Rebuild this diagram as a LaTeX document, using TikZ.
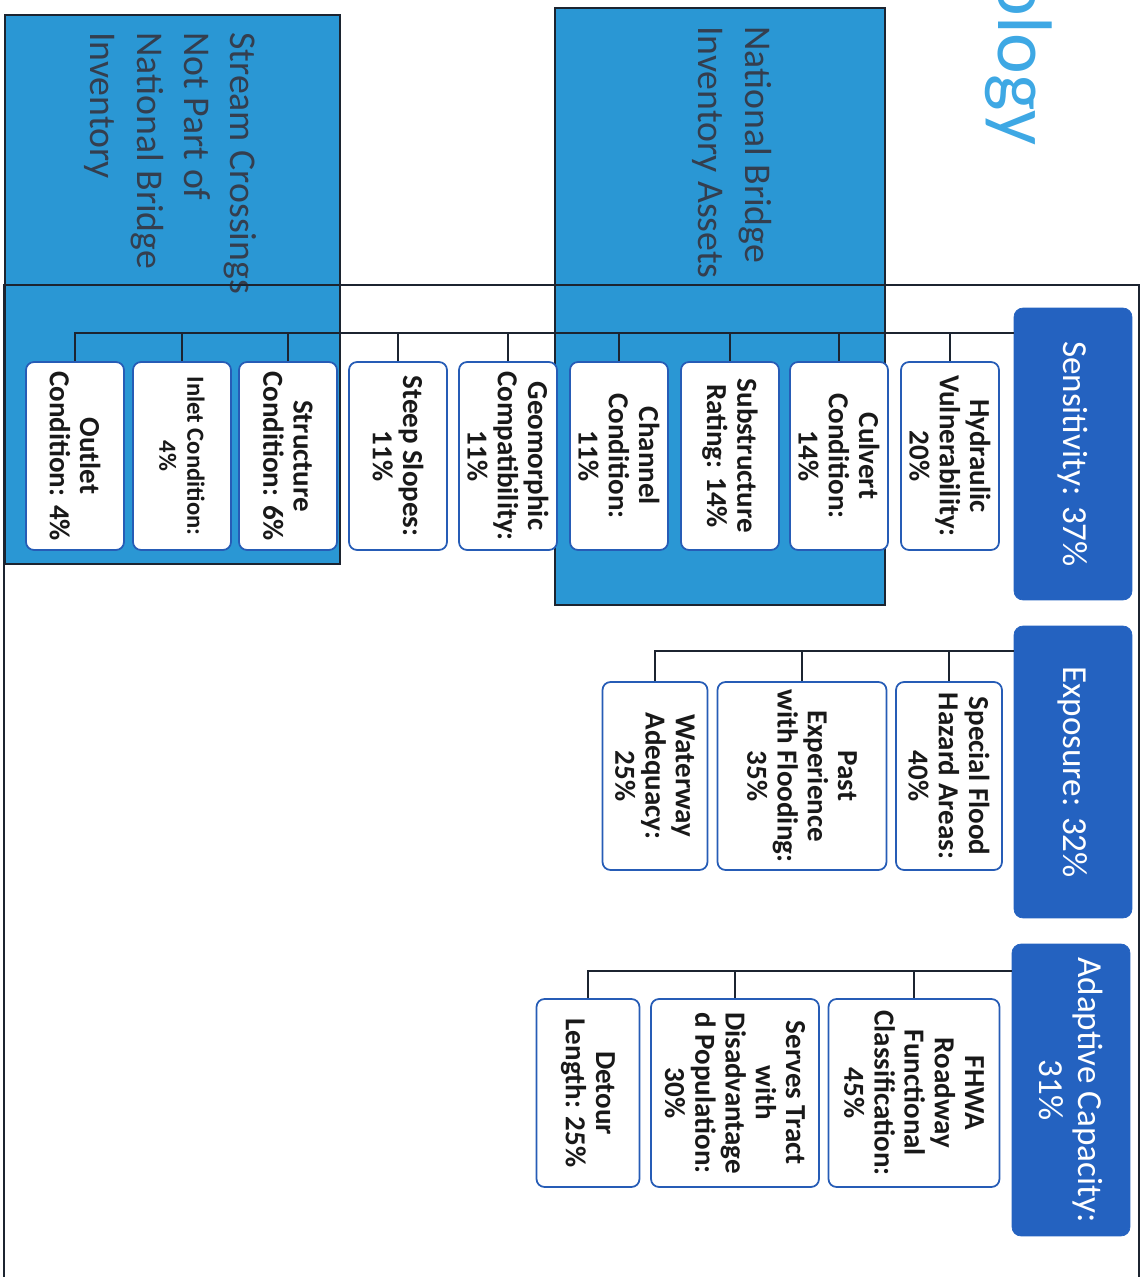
\documentclass[tikz,border=0pt]{standalone}
\usepackage{fontspec}
\setmainfont{Carlito}
\usepackage{xcolor}
\usepackage{tikz}
\usetikzlibrary{calc}
\definecolor{pillarblue}{RGB}{36,98,192}
\definecolor{edgeblue}{RGB}{38,92,182}
\definecolor{shade}{RGB}{42,151,212}
\definecolor{titleblue}{RGB}{62,168,228}
\definecolor{frameline}{RGB}{28,36,48}
\definecolor{labeltext}{RGB}{52,62,78}
\tikzset{
    pillar/.style={rectangle, rounded corners=0.18cm, draw=pillarblue, fill=pillarblue, text=white, minimum width=5.84cm, minimum height=2.36cm, align=center, font=\fontsize{20}{22}\selectfont},
    criterion/.style={rectangle, rounded corners=0.16cm, draw=edgeblue, line width=1pt, fill=white, minimum width=3.76cm, minimum height=1.96cm, align=center, inner sep=2pt, text={black!90}, font=\bfseries\fontsize{16.5}{17.2}\selectfont},
    shadebox/.style={draw=frameline, line width=0.8pt, fill=shade},
    shadelabel/.style={anchor=north west, inner sep=0pt, align=left, text=labeltext, font=\fontsize{21.5}{26.5}\selectfont},
    bus/.style={draw=frameline, line width=1.1pt}
}

\begin{document}
\begin{tikzpicture}[x=0.02cm, y=-0.02cm, rotate=-90, transform shape]
    \useasboundingbox (0,0) rectangle (1277,1146);
    \clip (0,0) rectangle (1277,1146);

    % Asset groups
    \path[shadebox] (8,261) rectangle (605,591);
    \path[shadebox] (15,806) rectangle (564,1141);
    \node[shadelabel] (nbi) at (26,374) {National Bridge\\Inventory Assets};
    \node[shadelabel] (nonnbi) at (32,889) {Stream Crossings\\Not Part of\\National Bridge\\Inventory};

    % Slide title and content frame
    \node[anchor=base west, inner sep=0pt, text=titleblue, font=\fontsize{44}{44}\selectfont] (title) at (-25,148) {ology};
    \draw[frameline, line width=1pt] (1300,7) -- (285,7) -- (285,1142) -- (1300,1142);

    % Components
    \node[pillar] (sens) at (454,73) {Sensitivity: 37\%};
    \node[pillar] (expo) at (772,73) {Exposure: 32\%};
    \node[pillar] (adap) at (1090,75) {Adaptive Capacity:\\31\%};

    % Sensitivity criteria
    \node[criterion] (hyd) at (456,196) {Hydraulic\\Vulnerability:\\20\%};
    \node[criterion] (culv) at (456,307) {Culvert\\Condition:\\14\%};
    \node[criterion] (sub) at (456,416) {Substructure\\Rating: 14\%};
    \node[criterion] (chan) at (456,527) {Channel\\Condition:\\11\%};
    \node[criterion] (geo) at (456,638) {Geomorphic\\Compatibility:\\11\%};
    \node[criterion] (steep) at (456,748) {Steep Slopes:\\11\%};
    \node[criterion] (struc) at (456,858) {Structure\\Condition: 6\%};
    \node[criterion, font=\bfseries\fontsize{14}{16}\selectfont] (inlet) at (456,964) {Inlet Condition:\\4\%};
    \node[criterion] (outlet) at (456,1071) {Outlet\\Condition: 4\%};

    % Exposure criteria
    \node[criterion, minimum height=2.12cm] (flood) at (776,197) {Special Flood\\Hazard Areas:\\40\%};
    \node[criterion, minimum height=3.38cm] (past) at (776,344) {Past\\Experience\\with Flooding:\\35\%};
    \node[criterion, minimum height=2.1cm] (water) at (776,491) {Waterway\\Adequacy:\\25\%};

    % Adaptive capacity criteria
    \node[criterion, minimum height=3.42cm] (fhwa) at (1093,232) {FHWA\\Roadway\\Functional\\Classification:\\45\%};
    \node[criterion, minimum height=3.36cm] (tract) at (1093,411) {Serves Tract\\with\\Disadvantage\\d Population:\\30\%};
    \node[criterion, minimum height=2.06cm] (detour) at (1093,558) {Detour\\Length: 25\%};

    % Connections
    \coordinate (sensbus) at ($(sens.south west)+(25,0)$);
    \coordinate (expobus) at ($(expo.south west)+(25,0)$);
    \coordinate (adapbus) at ($(adap.south west)+(27,0)$);
    \draw[bus] (sensbus) |- (hyd.west);
    \draw[bus] (sensbus) |- (culv.west);
    \draw[bus] (sensbus) |- (sub.west);
    \draw[bus] (sensbus) |- (chan.west);
    \draw[bus] (sensbus) |- (geo.west);
    \draw[bus] (sensbus) |- (steep.west);
    \draw[bus] (sensbus) |- (struc.west);
    \draw[bus] (sensbus) |- (inlet.west);
    \draw[bus] (sensbus) |- (outlet.west);
    \draw[bus] (expobus) |- (flood.west);
    \draw[bus] (expobus) |- (past.west);
    \draw[bus] (expobus) |- (water.west);
    \draw[bus] (adapbus) |- (fhwa.west);
    \draw[bus] (adapbus) |- (tract.west);
    \draw[bus] (adapbus) |- (detour.west);
\end{tikzpicture}
\end{document}
